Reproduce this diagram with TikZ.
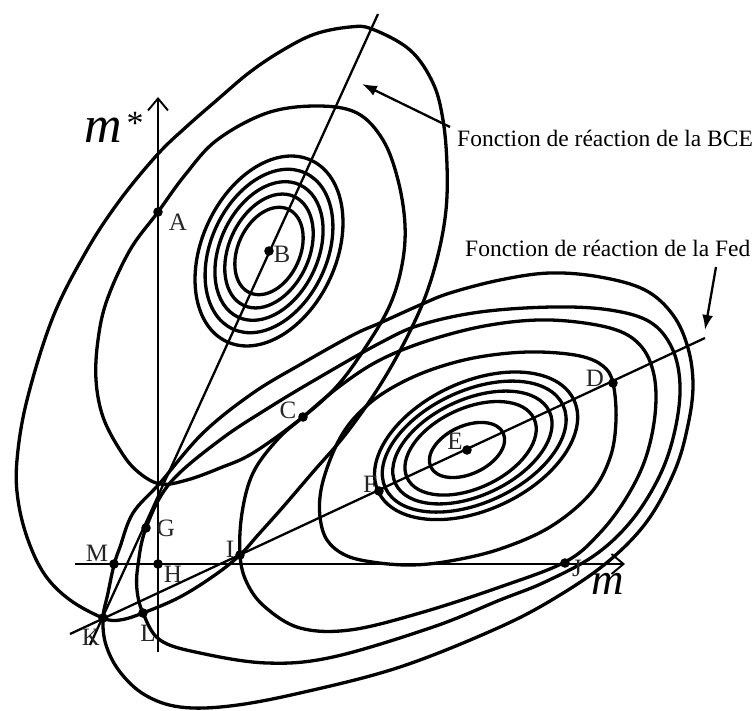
\documentclass[tikz,border=0pt]{standalone}
\usepackage{fontspec}
\setmainfont{Liberation Serif}
\usetikzlibrary{arrows.meta}
\tikzset{
  curve/.style={line width=3.3pt, line join=round},
  rline/.style={line width=2.3pt},
  axisline/.style={line width=1.9pt, -{Straight Barb[length=12pt,width=20pt,line width=1.9pt]}},
  ptdot/.style={fill=black},
  lbl/.style={font=\fontsize{25}{28}\selectfont, inner sep=0pt, text=black!85},
  captxt/.style={font=\fontsize{23.5}{28}\selectfont, inner sep=0pt, anchor=base west},
  callout/.style={line width=2.3pt, -{Latex[length=15pt,width=11pt]}},
}
\begin{document}
\begin{tikzpicture}[x=1pt,y=-1pt]
\useasboundingbox (0,0) rectangle (756,711);
\fill[white] (0,0) rectangle (756,711);

% named points
\coordinate (A) at (158,212);
\coordinate (B) at (269,251);
\coordinate (C) at (303,417);
\coordinate (D) at (613,383);
\coordinate (E) at (467,450);
\coordinate (F) at (379,491);
\coordinate (G) at (146,528);
\coordinate (H) at (158,564);
\coordinate (I) at (240,555);
\coordinate (J) at (565,563);
\coordinate (K) at (103,618);
\coordinate (L) at (143,613);
\coordinate (M) at (114,564);

% axes
\coordinate (vbot) at (158,652);
\coordinate (vtop) at (158,97);
\coordinate (hleft) at (75,564);
\coordinate (hright) at (625,564);
\draw[axisline] (vbot) -- (vtop);
\draw[axisline] (hleft) -- (hright);

% reaction functions
\coordinate (bceTop) at (378,14);
\coordinate (bceBot) at (90,645);
\coordinate (fedLo) at (70,634);
\coordinate (fedHi) at (705,338);
\draw[rline] (bceTop) -- (bceBot);
\draw[rline] (fedLo) -- (fedHi);

% BCE small rings
\foreach \a/\b in {46/31, 60/40, 73/49, 86/58, 100/67}
  \draw[curve, rotate around={65:(B)}] (B) ellipse (\a pt and \b pt);

% Fed small rings
\coordinate (E1) at (467,450);
\coordinate (E2) at (470.6,448.3);
\coordinate (E3) at (472.4,447.5);
\coordinate (E4) at (474.2,446.6);
\coordinate (E5) at (476.1,445.8);
\draw[curve, rotate around={25:(E1)}] (E1) ellipse (40pt and 24pt);
\draw[curve, rotate around={25:(E2)}] (E2) ellipse (70pt and 40pt);
\draw[curve, rotate around={25:(E3)}] (E3) ellipse (85pt and 48pt);
\draw[curve, rotate around={25:(E4)}] (E4) ellipse (98pt and 56pt);
\draw[curve, rotate around={25:(E5)}] (E5) ellipse (108pt and 64pt);

% BCE curve through A and C
\draw[curve] plot[smooth cycle, tension=0.6] coordinates {
 (317,106) (357,113) (383,140) (398,180) (405,225) (402,265) (390,305)
 (367,345) (338,385) (303,417) (253,453) (220,468) (187,480) (160,484)
 (137,471) (120,450) (103,417) (96,380) (98,340) (107,300) (130,250)
 (158,212) (185,175) (217,140) (267,113)};

% BCE outer curve through K
\draw[curve] plot[smooth cycle, tension=0.6] coordinates {
 (350,27) (372,29) (410,50) (433,83) (443,120) (447,165) (446,210)
 (438,255) (424,300) (403,345) (377,390) (345,435) (313,472) (283,507)
 (258,535) (240,555) (215,575) (180,597) (143,613) (120,620) (103,618)
 (70,600) (45,575) (28,540) (18,500) (17,460) (27,400) (53,317) (87,250)
 (120,200) (157,155) (185,128) (217,100) (250,72) (283,50) (315,34)};

% Fed curve through D
\draw[curve] plot[smooth cycle, tension=0.6] coordinates {
 (613,383) (603,366) (580,356) (540,352) (500,354) (460,361) (420,374)
 (385,392) (360,412) (343,433) (330,460) (321,490) (320,517) (327,540)
 (345,555) (372,562) (410,565) (450,561) (500,549) (550,527) (590,494)
 (610,458) (616,420)};

% Fed curve through I and C
\draw[curve] plot[smooth cycle, tension=0.6] coordinates {
 (303,417) (340,386) (380,360) (430,340) (490,325) (550,320) (610,328)
 (640,345) (654,375) (655,415) (645,460) (625,500) (598,535) (565,562)
 (500,587) (420,613) (350,630) (300,628) (265,607) (247,583) (240,555)
 (242,513) (253,473) (277,440)};

% Fed curve through G and L
\draw[curve] plot[smooth cycle, tension=0.6] coordinates {
 (146,528) (170,483) (220,440) (270,407) (320,377) (380,343) (420,325)
 (480,312) (553,307) (610,310) (650,322) (672,348) (680,385) (675,430)
 (660,475) (632,520) (595,555) (545,582) (500,600) (433,627) (333,657)
 (267,663) (200,653) (160,640) (143,613) (137,590) (138,565)};

% Fed outer curve through K
\draw[curve] plot[smooth cycle, tension=0.6] coordinates {
 (103,618) (106,645) (120,672) (145,695) (180,707) (230,706) (300,693)
 (400,667) (500,627) (560,595) (610,560) (648,520) (675,470) (688,425)
 (693,385) (688,348) (673,315) (645,290) (600,277) (550,273) (500,280)
 (450,293) (420,305) (380,323) (353,335) (303,363) (253,393) (203,433)
 (160,483) (133,513) (120,547) (114,565) (108,593)};

% dots
\foreach \p in {A,B,C,D,E,F,G,H,I,J,K,L,M}
  \fill[ptdot] (\p) circle (4.8pt);

% point labels
\node[lbl] (lA) at (178,222) {A};
\node[lbl] (lB) at (282,254) {B};
\node[lbl] (lC) at (288,410) {C};
\node[lbl] (lD) at (595,378) {D};
\node[lbl] (lE) at (455,441) {E};
\node[lbl] (lF) at (370,484) {F};
\node[lbl] (lG) at (166,528) {G};
\node[lbl] (lH) at (173,574) {H};
\node[lbl] (lI) at (230,549) {I};
\node[lbl] (lJ) at (577,568) {J};
\node[lbl] (lK) at (91,637) {K};
\node[lbl] (lL) at (148,633) {L};
\node[lbl] (lM) at (97,553) {M};

% axis labels
\node[font=\fontsize{52}{60}\selectfont\itshape, inner sep=0pt] (mstar) at (103,130) {m};
\node[font=\fontsize{34}{36}\selectfont, inner sep=0pt, anchor=base] (ast) at (135,135) {*};
\node[font=\fontsize{45}{50}\selectfont\itshape, inner sep=0pt] (mlab) at (608,584) {m};

% captions and callouts
\node[captxt] (capBCE) at (457,147) {Fonction de réaction de la BCE};
\node[captxt] (capFed) at (465,257) {Fonction de réaction de la Fed};
\coordinate (bceTail) at (450,127);
\coordinate (bceTip) at (362,84);
\coordinate (fedTail) at (716,267);
\coordinate (fedTip) at (705,330);
\draw[callout] (bceTail) -- (bceTip);
\draw[callout] (fedTail) -- (fedTip);
\end{tikzpicture}
\end{document}
